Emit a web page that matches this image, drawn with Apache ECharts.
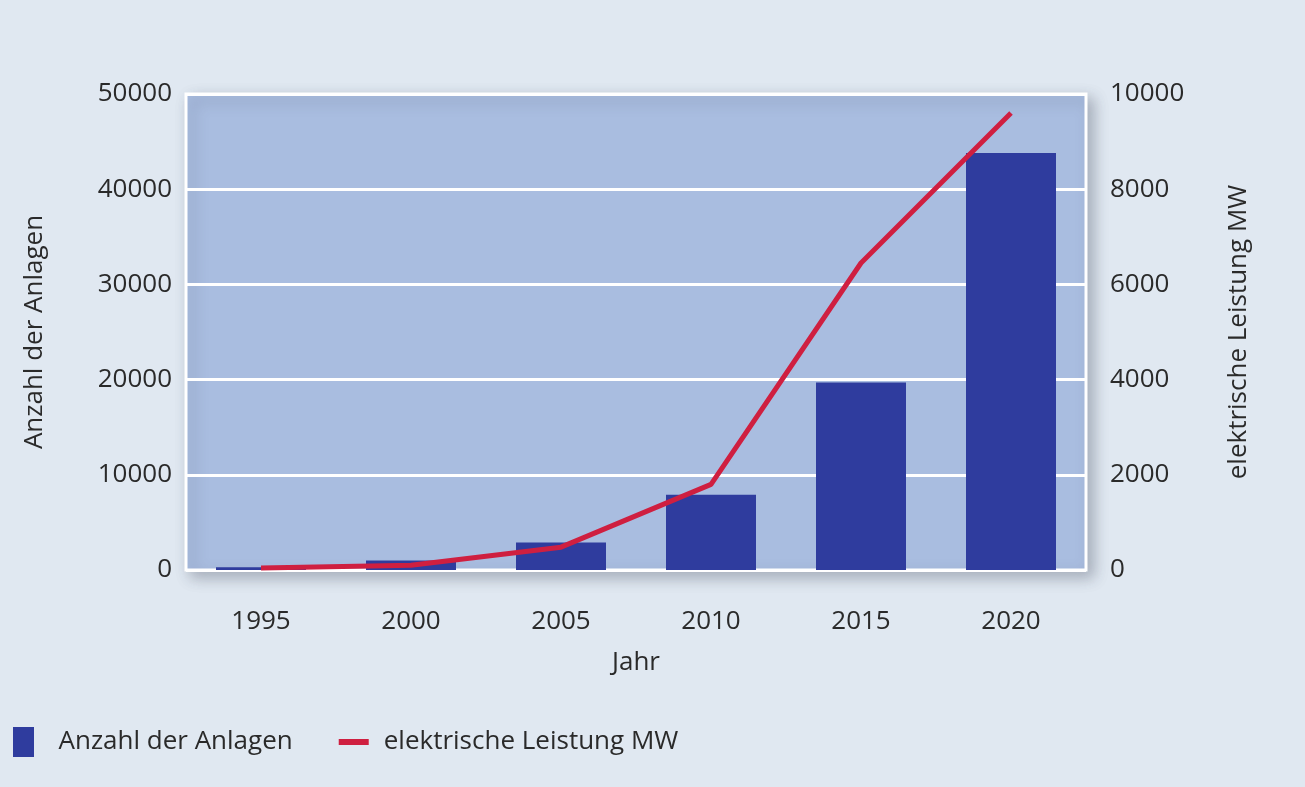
<!DOCTYPE html>
<html><head><meta charset="utf-8">
<script src="https://cdn.jsdelivr.net/npm/echarts@6/dist/echarts.min.js"></script>
<style>html,body{margin:0;padding:0;background:#dfe7f0;}#c{width:1305px;height:787px;}</style>
</head><body><div id="c"></div>
<script>
const years = ['1995','2000','2005','2010','2015','2020'];
const anlagen = [300, 1000, 2900, 7900, 19700, 43800];
const leistung = [40, 100, 480, 1800, 6450, 9600];
const leftTicks = [0, 10000, 20000, 30000, 40000, 50000];
const rightTicks = [0, 2000, 4000, 6000, 8000, 10000];

const font = '"Open Sans", "Noto Sans", sans-serif';
const txt = { fontFamily: font, fontSize: 26, color: '#2a2a2a' };
const chart = echarts.init(document.getElementById('c'));
chart.setOption({
  backgroundColor: '#e0e8f1',
  animation: false,
  grid: {
    left: 186, right: 219, top: 94, bottom: 217,
    show: true, backgroundColor: '#a9bde0', borderColor: '#ffffff', borderWidth: 3,
    shadowColor: 'rgba(60,70,90,0.35)', shadowBlur: 14, shadowOffsetX: 6, shadowOffsetY: 6
  },
  legend: {
    left: 8, top: 722, itemGap: 46, itemWidth: 30, itemHeight: 30,
    symbolKeepAspect: true,
    textStyle: txt,
    data: [
      { name: 'Anzahl der Anlagen', icon: 'path://M0,0 L21,0 L21,30 L0,30 Z', textStyle: { padding: [0, 0, 0, 15] } },
      { name: 'elektrische Leistung MW', icon: 'path://M0,0 L30,0 L30,6 L0,6 Z',
        textStyle: { padding: [0, 0, 0, 10] } }
    ]
  },
  xAxis: {
    type: 'category', data: years,
    name: 'Jahr', nameLocation: 'middle', nameGap: 80,
    nameTextStyle: txt,
    axisLine: { show: false }, axisTick: { show: false },
    axisLabel: Object.assign({ margin: 39 }, txt)
  },
  yAxis: [{
    type: 'value', min: 0, max: 50000, interval: 10000,
    name: 'Anzahl der Anlagen', nameLocation: 'middle', nameGap: 138, nameRotate: 90,
    nameTextStyle: txt,
    axisLine: { show: false }, axisTick: { show: false },
    axisLabel: Object.assign({ margin: 14, customValues: leftTicks, formatter: v => String(v) }, txt),
    splitLine: { lineStyle: { color: '#ffffff', width: 3 } }
  }, {
    type: 'value', min: 0, max: 10000, interval: 2000, position: 'right',
    name: 'elektrische Leistung MW', nameLocation: 'middle', nameGap: 140, nameRotate: 90,
    nameTextStyle: txt,
    axisLine: { show: false }, axisTick: { show: false },
    axisLabel: Object.assign({ margin: 24, customValues: rightTicks, formatter: v => String(v) }, txt),
    splitLine: { show: false }
  }],
  series: [{
    name: 'Anzahl der Anlagen', type: 'bar', data: anlagen, barWidth: '60%',
    itemStyle: { color: '#2f3c9e' }
  }, {
    name: 'elektrische Leistung MW', type: 'line', yAxisIndex: 1, data: leistung,
    symbol: 'none', lineStyle: { color: '#cf1f40', width: 5 }, itemStyle: { color: '#cf1f40' }
  }]
});
</script></body></html>
